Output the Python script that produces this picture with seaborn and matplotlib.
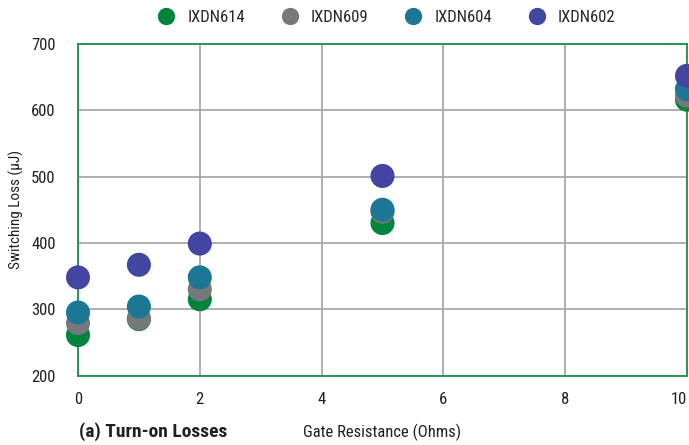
import matplotlib
matplotlib.use("Agg")
import matplotlib.pyplot as plt
import seaborn as sns
import pandas as pd
from matplotlib import font_manager

gate_resistance = [0, 1, 2, 5, 10]
ixdn614 = [261, 285, 315, 430, 616]
ixdn609 = [279, 286, 330, 447, 622]
ixdn604 = [295, 304, 348, 450, 632]
ixdn602 = [348, 367, 399, 501, 652]

devices = ["IXDN614", "IXDN609", "IXDN604", "IXDN602"]
colors = ["#00843D", "#77787B", "#1B7794", "#4346A0"]

rows = []
for name, vals in zip(devices, [ixdn614, ixdn609, ixdn604, ixdn602]):
    for x, y in zip(gate_resistance, vals):
        rows.append({"Gate Resistance (Ohms)": x, "Switching Loss": y, "Device": name})
df = pd.DataFrame(rows)

sns.set_theme(style="white")
names = {f.name for f in font_manager.fontManager.ttflist}
fam = "DejaVu Sans"
for cand in ["Roboto Condensed", "Archivo Narrow", "PT Sans Narrow", "Asap Condensed",
             "Barlow Condensed", "Liberation Sans Narrow"]:
    if cand in names:
        fam = cand
        break
plt.rcParams["font.family"] = [fam, "DejaVu Sans"]

fig = plt.figure(figsize=(6.89, 4.45), dpi=100)
ax = fig.add_axes([78 / 689, 1 - 375.5 / 445, 609 / 689, 331.5 / 445])

sns.scatterplot(data=df, x="Gate Resistance (Ohms)", y="Switching Loss", hue="Device",
                hue_order=devices, palette=colors, s=300, edgecolor="none",
                linewidth=0, alpha=1, ax=ax, clip_on=False, zorder=3)

ax.set_xlim(0, 10)
ax.set_ylim(200, 700)
ax.set_xticks([0, 2, 4, 6, 8, 10])
ax.set_yticks([200, 300, 400, 500, 600, 700])
ax.grid(True, color="#A7A9AC", linewidth=1.3)
ax.set_axisbelow(True)
for sp in ax.spines.values():
    sp.set_color("#1A9148")
    sp.set_linewidth(1.3)
    sp.set_visible(True)
ax.tick_params(axis="both", length=0, labelsize=12, colors="#231F20")
ax.tick_params(axis="x", pad=12)
ax.tick_params(axis="y", pad=16)
xt = ax.get_xticklabels()
xt[-1].set_horizontalalignment("right")
xt[-1].set_x(10)

ax.set_xlabel("")
ax.set_ylabel("Switching Loss (µJ)", fontsize=11, color="#231F20", labelpad=5)
fig.text(303 / 689, 1 - 432 / 445, "Gate Resistance (Ohms)", fontsize=12,
         color="#231F20", ha="left", va="center")
fig.text(79 / 689, 1 - 432 / 445, "(a) Turn-on Losses", fontsize=14,
         fontweight="bold", color="#231F20", ha="left", va="center")

sns.move_legend(ax, "center", bbox_to_anchor=(0.50, (375.5 - 17) / 331.5),
                ncol=4, frameon=False, title=None, fontsize=12,
                columnspacing=1.7, handletextpad=0.25, markerscale=0.72)

fig.savefig("out.png", dpi=100)
